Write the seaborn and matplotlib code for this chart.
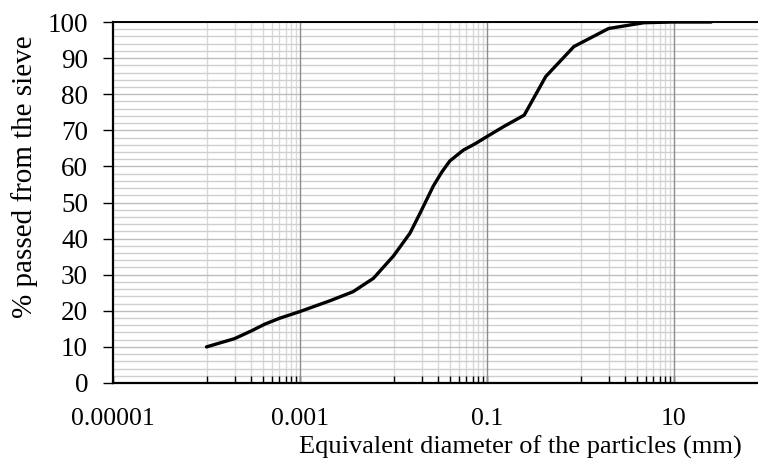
import numpy as np
import pandas as pd
import seaborn as sb
import matplotlib.pyplot as plt

# grain size distribution
diameter_mm = [1e-4, 2e-4, 3e-4, 4.2e-4, 6e-4, 1e-3, 2.1e-3, 3.7e-3, 6.1e-3, 0.01,
               0.015, 0.0192, 0.0267, 0.033, 0.040, 0.0557, 0.075, 0.099, 0.15,
               0.25, 0.425, 0.85, 2.0, 4.75, 9.5, 25]
passed_pct = [10.0, 12.3, 14.4, 16.3, 17.9, 19.8, 22.8, 25.3, 29.0, 35.2,
              41.5, 47.0, 54.6, 58.5, 61.5, 64.5, 66.3, 68.2, 71.0,
              74.2, 84.9, 93.2, 98.2, 99.8, 100, 100]

x_major = [1e-5, 1e-3, 1e-1, 10]
x_major_labels = ['0.00001', '0.001', '0.1', '10']
y_major = list(range(0, 101, 10))

df = pd.DataFrame({'d': diameter_mm, 'p': passed_pct})

sb.set_theme(style="white")
plt.rcParams['font.family'] = ['Liberation Serif', 'DejaVu Serif']
plt.rcParams['text.color'] = 'black'
plt.rcParams['xtick.labelcolor'] = 'black'
plt.rcParams['ytick.labelcolor'] = 'black'

fig = plt.figure(figsize=(7.58, 4.62), dpi=100)
ax = fig.add_axes([113 / 758, 79 / 462, 654.5 / 758, 361 / 462])

# minor grid, Excel-style base-100 log axis
x_minor = [k * b for b in [1e-4, 1e-2, 1] for k in range(1, 10)]
y_minor = [v for v in range(0, 101, 2) if v % 10]
for v in x_minor:
    ax.axvline(v, color='#d9d9d9', lw=1.0, zorder=0)
for v in y_minor:
    ax.axhline(v, color='#cfcfcf', lw=1.0, zorder=0)
for v in y_major:
    ax.axhline(v, color='#bdbdbd', lw=1.0, zorder=0)
for v in x_major[1:]:
    ax.axvline(v, color='#8c8c8c', lw=1.0, zorder=1)

sb.lineplot(data=df, x='d', y='p', color='black', linewidth=2.4, ax=ax, zorder=3)

ax.set_xscale('log')
ax.set_xlim(1e-5, 100)
ax.set_ylim(0, 100)
ax.set_xticks(x_major)
ax.set_xticklabels(x_major_labels)
ax.set_xticks(x_minor, minor=True)
ax.set_xticklabels([], minor=True)
ax.set_yticks(y_major)

ax.tick_params(axis='x', which='both', direction='in', length=5, width=1,
               color='black', labelcolor='black', labelsize=18.5, pad=18, bottom=True)
ax.tick_params(axis='y', which='major', direction='out', length=7, width=1,
               color='black', labelcolor='black', labelsize=19.5, pad=11, left=True)

for s in ['left', 'bottom']:
    ax.spines[s].set_color('black')
    ax.spines[s].set_linewidth(1.6)
ax.spines['top'].set_color('black')
ax.spines['top'].set_linewidth(1.4)
ax.spines['right'].set_visible(False)

ax.set_xlabel('')
ax.set_ylabel('')
fig.text(742 / 758, 15 / 462, 'Equivalent diameter of the particles (mm)',
         ha='right', va='center', fontsize=19, color='black')
fig.text(25 / 758, (462 - 177) / 462, '% passed from the sieve',
         rotation=90, ha='center', va='center', fontsize=21, color='black')

plt.savefig('out.png', dpi=100)
plt.close()
